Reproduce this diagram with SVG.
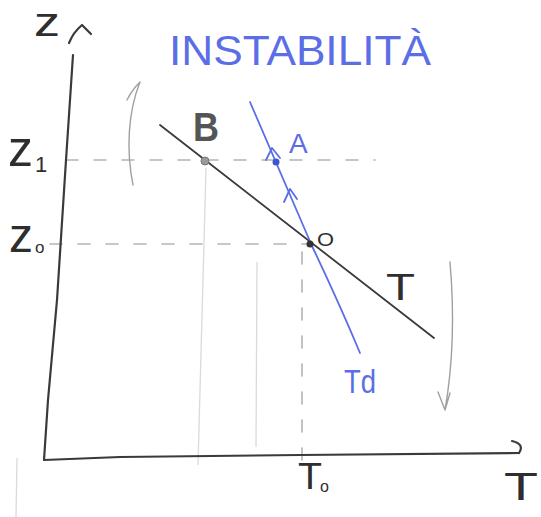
<svg xmlns="http://www.w3.org/2000/svg" width="541" height="517" viewBox="0 0 541 517">
<style>
.ink{fill:none;stroke:#3a3a3a;stroke-width:2.2;stroke-linecap:round;stroke-linejoin:round}
.blue{fill:none;stroke:#5b6ee6;stroke-width:1.8;stroke-linecap:round;stroke-linejoin:round}
.dash{fill:none;stroke:#b4b4b4;stroke-width:1.6;stroke-dasharray:12 16;stroke-linecap:round}
.faint{fill:none;stroke:#dadada;stroke-width:1.3}
.pencil{fill:none;stroke:#a0a0a0;stroke-width:1.4;stroke-linecap:round;stroke-linejoin:round}
.t{font-family:"Liberation Sans",Arial,sans-serif;fill:#2e2e2e}
.tb{font-family:"Liberation Sans",Arial,sans-serif;fill:#5b6ee6}
</style>
<rect width="541" height="517" fill="#ffffff"/>
<g id="guides">
  <path class="dash" d="M66,160 L375,160"/>
  <path class="dash" d="M50,244 L308,244"/>
  <path class="dash" d="M302,252 L302,470"/>
  <path class="faint" d="M206,168 L198,465"/>
  <path class="faint" d="M257,262 L256,447"/>
  <path class="faint" d="M17,458 L16,517"/>
</g>
<g id="connectors">
  <path id="y-axis" class="ink" d="M73,55 L66,160 L57,300 L48,400 L44,460"/>
  <path id="y-arrow" class="ink" d="M69,43 C71,38 76,30 82,25 L91,34"/>
  <path id="x-axis" class="ink" d="M44,460 L120,457 L300,455 L519,453"/>
  <path id="x-arrow" class="ink" d="M512,441 Q525,444 519,453"/>
  <path id="up-arrow" class="pencil" d="M133,185 C126,150 128,112 140,82 M140,82 C134,88 130,94 127,100"/>
  <path id="down-arrow" class="pencil" d="M450,262 C455,320 452,370 445,410 M438,392 L445,410 L450,393"/>
</g>
<g id="curve-T">
  <path class="ink" d="M160,125 L434,338" style="stroke-width:1.8"/>
  <text class="t" x="386" y="300" font-size="36" textLength="29" lengthAdjust="spacingAndGlyphs">T</text>
</g>
<g id="curve-Td">
  <path class="blue" d="M250,102 L312,246 Q340,305 360,353"/>
  <path class="blue" d="M266,160 L272,148 L280,158"/>
  <path class="blue" d="M284,202 L290,189 L297,199"/>
  <text class="tb" x="344" y="393" font-size="34" textLength="32" lengthAdjust="spacingAndGlyphs">Td</text>
</g>
<g id="point-B">
  <circle cx="205" cy="161" r="4" fill="#9a9a9a" stroke="#777" stroke-width="1"/>
  <text class="t" x="193" y="141" font-size="40" font-weight="bold" style="fill:#555" textLength="26" lengthAdjust="spacingAndGlyphs">B</text>
</g>
<g id="point-A">
  <circle cx="276" cy="162" r="3.5" fill="#3f54d0"/>
  <text class="tb" x="289" y="153" font-size="28">A</text>
</g>
<g id="point-O">
  <circle cx="310" cy="244" r="3.5" fill="#333"/>
  <text class="t" x="317" y="246" font-size="19" textLength="17" lengthAdjust="spacingAndGlyphs">O</text>
</g>
<g id="labels">
  <text class="t" x="34" y="36" font-size="40" textLength="26" lengthAdjust="spacingAndGlyphs">z</text>
  <text class="t" x="8" y="166" font-size="50">z</text>
  <text class="t" x="35" y="172" font-size="22">1</text>
  <text class="t" x="9" y="252" font-size="48">z</text>
  <text class="t" x="35" y="253" font-size="17">o</text>
  <text class="t" x="298" y="489" font-size="36" textLength="24" lengthAdjust="spacingAndGlyphs">T</text>
  <text class="t" x="320" y="492" font-size="16">o</text>
  <text class="t" x="504" y="500" font-size="38" textLength="34" lengthAdjust="spacingAndGlyphs">T</text>
</g>
<g id="title">
  <text class="tb" x="169" y="65" font-size="42" textLength="262" lengthAdjust="spacingAndGlyphs">INSTABILITÀ</text>
</g>
</svg>
